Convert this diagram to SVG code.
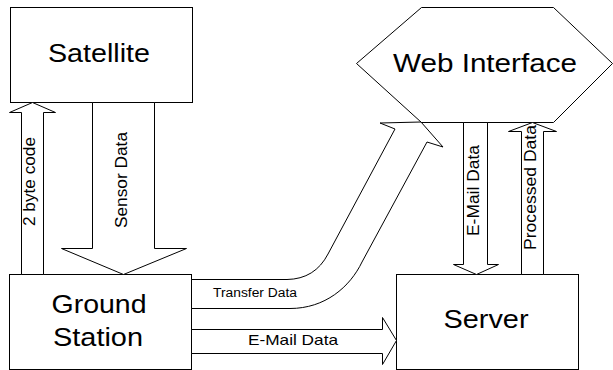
<svg xmlns="http://www.w3.org/2000/svg" width="613" height="370" viewBox="0 0 613 370">
  <style>
    .shape { fill: #ffffff; stroke: #000000; stroke-width: 1; stroke-linejoin: miter; }
    .big { font-family: "Liberation Sans", Arial, sans-serif; font-size: 26px; fill: #000000; text-anchor: middle; }
    .lbl { font-family: "Liberation Sans", Arial, sans-serif; font-size: 16px; fill: #000000; text-anchor: middle; }
    .small { font-family: "Liberation Sans", Arial, sans-serif; font-size: 12.5px; fill: #000000; }
  </style>

  <rect x="0" y="0" width="613" height="370" fill="#ffffff"/>

  <!-- Nodes -->
  <g id="satellite">
    <rect class="shape" x="10.5" y="7.5" width="182" height="95"/>
    <text class="big" x="99" y="62" textLength="102" lengthAdjust="spacingAndGlyphs">Satellite</text>
  </g>

  <g id="web-interface">
    <polygon class="shape" points="421.5,7.5 553.5,7.5 612.5,63.5 553.5,122.5 421.5,122.5 356.5,63.5"/>
    <text class="big" x="485" y="72" textLength="184" lengthAdjust="spacingAndGlyphs">Web Interface</text>
  </g>

  <g id="ground-station">
    <rect class="shape" x="9.5" y="274.5" width="182" height="95"/>
    <text class="big" x="99" y="313" textLength="95" lengthAdjust="spacingAndGlyphs">Ground</text>
    <text class="big" x="98" y="346" textLength="90" lengthAdjust="spacingAndGlyphs">Station</text>
  </g>

  <g id="server">
    <rect class="shape" x="396.5" y="274.5" width="182" height="95"/>
    <text class="big" x="486" y="328" textLength="85" lengthAdjust="spacingAndGlyphs">Server</text>
  </g>

  <!-- Connectors (block arrows) -->
  <g id="connectors">
    <!-- 2 byte code: Ground Station up to Satellite -->
    <polygon class="shape" points="21.5,274.5 21.5,112.5 9.5,112.5 32.5,102.5 55.5,112.5 43.5,112.5 43.5,274.5"/>
    <text class="lbl" transform="translate(35,181.5) rotate(-90)" x="0" y="0" textLength="89" lengthAdjust="spacingAndGlyphs">2 byte code</text>

    <!-- Sensor Data: Satellite down to Ground Station -->
    <polygon class="shape" points="92.5,102.5 92.5,248.5 61.5,248.5 123.5,274.5 186.5,248.5 154.5,248.5 154.5,102.5"/>
    <text class="lbl" transform="translate(127,180) rotate(-90)" x="0" y="0" textLength="96" lengthAdjust="spacingAndGlyphs">Sensor Data</text>

    <!-- Transfer Data: Ground Station curving up to Web Interface -->
    <path class="shape" d="M191.5,279.5 H287 Q315,279 328,254 L395,129 L380,123 L421,122 L443,147 L427,142 L362,262 C350,287 325,308.5 290,308.5 H191.5 Z"/>
    <text class="small" x="213" y="297" textLength="84" lengthAdjust="spacingAndGlyphs">Transfer Data</text>

    <!-- E-Mail Data: Ground Station to Server -->
    <polygon class="shape" points="191.5,329.5 382.5,329.5 382.5,317.5 396.5,340.5 382.5,364.5 382.5,353.5 191.5,353.5"/>
    <text class="lbl" x="293" y="345" style="font-size:15px" textLength="90" lengthAdjust="spacingAndGlyphs">E-Mail Data</text>

    <!-- E-Mail Data: Web Interface down to Server -->
    <polygon class="shape" points="463.5,122.5 463.5,264.5 453.5,264.5 476.5,274.5 498.5,264.5 487.5,264.5 487.5,122.5"/>
    <text class="lbl" transform="translate(479,190.5) rotate(-90)" x="0" y="0" textLength="91" lengthAdjust="spacingAndGlyphs">E-Mail Data</text>

    <!-- Processed Data: Server up to Web Interface -->
    <polygon class="shape" points="521.5,274.5 521.5,131.5 508.5,131.5 532.5,122.5 556.5,131.5 543.5,131.5 543.5,274.5"/>
    <text class="lbl" transform="translate(536,187.5) rotate(-90)" x="0" y="0" textLength="125" lengthAdjust="spacingAndGlyphs">Processed Data</text>
  </g>
</svg>
